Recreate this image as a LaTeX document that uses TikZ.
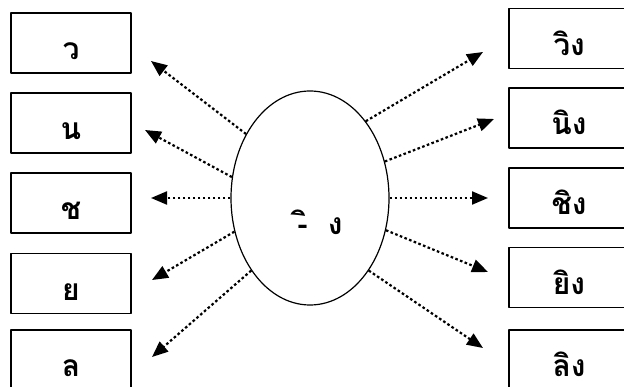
\documentclass[tikz,border=0pt]{standalone}
\usepackage{fontspec}
\newfontfamily\thaifont[Script=Thai]{Loma}
\usepackage{tikz}
\usetikzlibrary{shapes.geometric,arrows.meta}
\tikzset{
  thai/.style={font=\thaifont\bfseries\fontsize{30}{30}\selectfont},
  wordbox/.style={draw,line width=1.1pt,minimum width=120pt,minimum height=60pt,
    text height=34pt,text depth=0pt,inner sep=0pt,thai},
  spoke/.style={line width=2.2pt,dash pattern=on 2.6pt off 2.4pt,
    -{Triangle[length=16pt,width=13pt]}},
}
\begin{document}
\begin{tikzpicture}[x=1pt,y=-1pt,line join=round]
\useasboundingbox (0,0) rectangle (624,387);
\node[ellipse,draw,line width=1.2pt,minimum width=158pt,minimum height=214pt] (hub) at (310,198) {};
\node[thai,anchor=base] (stem) at (320,235) {-ิ\ \ ง};
% left column
\foreach \n/\y/\w/\a/\tx/\ty in {1/43/ว/135/151/61,2/123/น/165/145/130,3/203/ช/180/151/198,4/283.5/ย/204/152/280,5/360/ล/231/152/357}{
	\node[wordbox] (left\n) at (71,\y) {\w};
	\coordinate (ltip\n) at (\tx,\ty);
	\draw[spoke] (hub.\a) -- (ltip\n);}
% right column
\foreach \n/\y/\w/\a/\tx/\ty in {1/38.5/วิง/54/483/52,2/118/นิง/26/494/119,3/198/ชิง/0/488/198,4/277.5/ยิง/-23/488/272,5/360/ลิง/-51/483/348}{
	\node[wordbox] (right\n) at (569,\y) {\w};
	\coordinate (rtip\n) at (\tx,\ty);
	\draw[spoke] (hub.\a) -- (rtip\n);}
\end{tikzpicture}
\end{document}
